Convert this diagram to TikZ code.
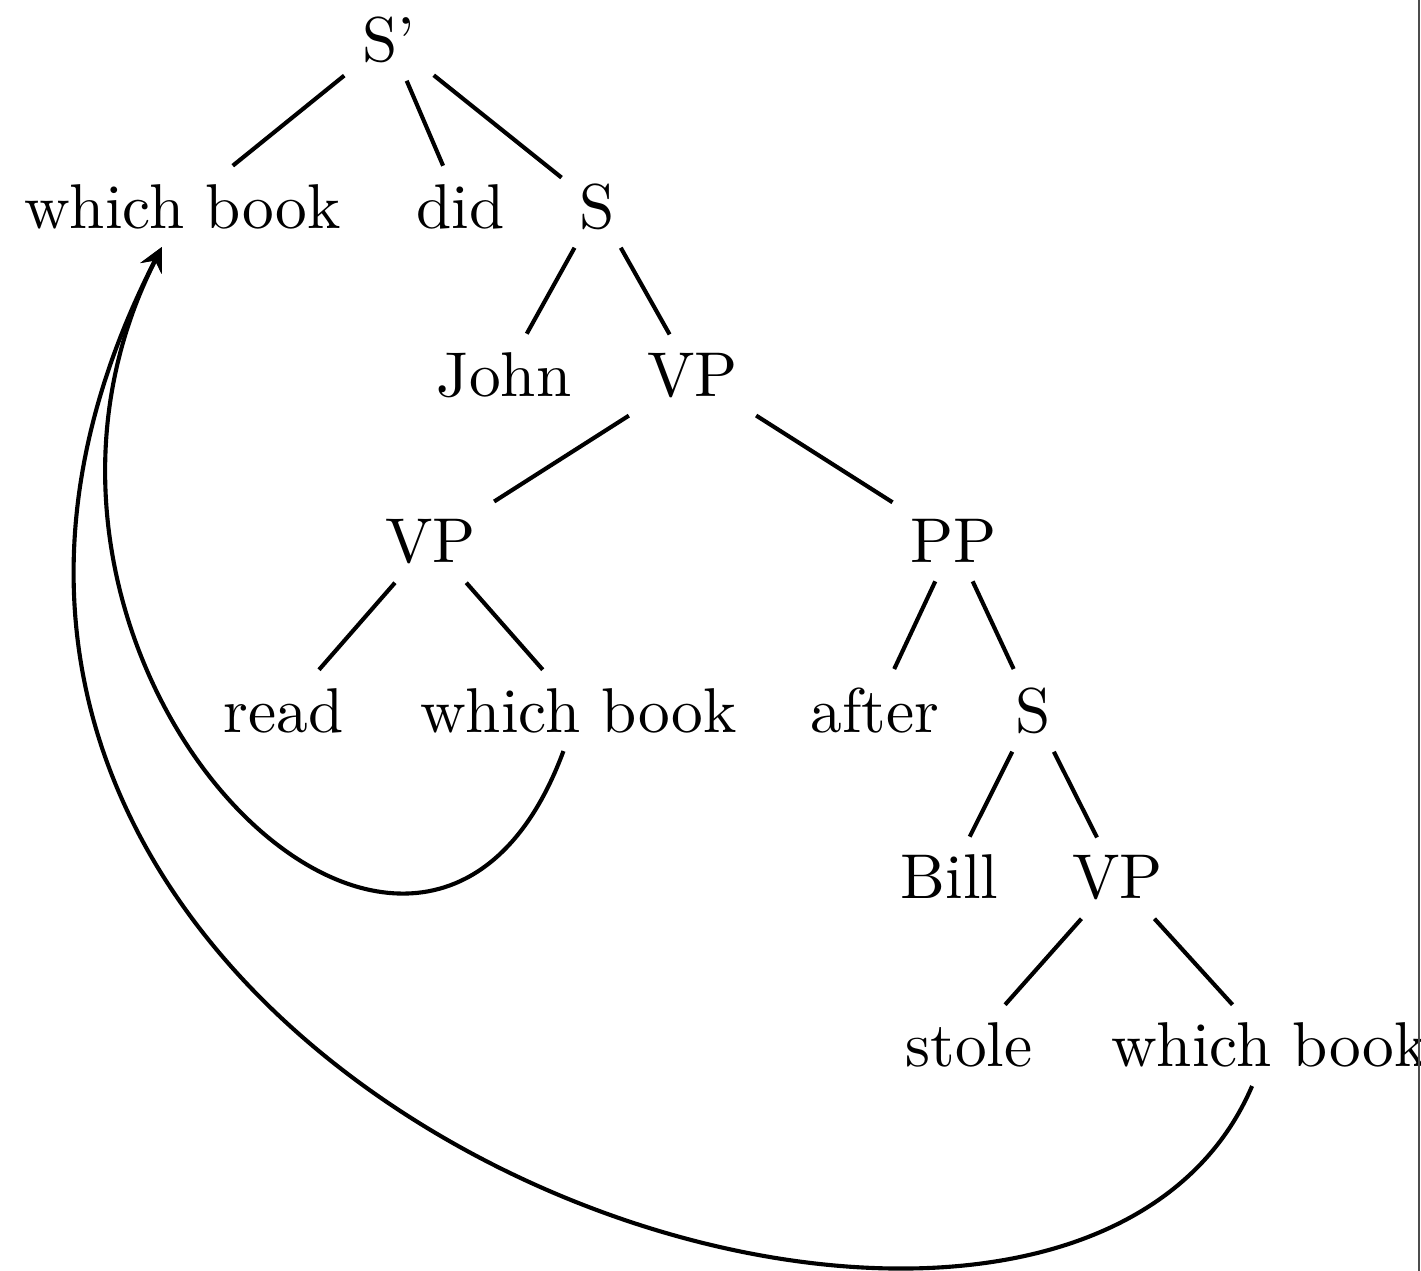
\documentclass[tikz,border=0pt]{standalone}
\usepackage{tikz}
\usetikzlibrary{positioning}

\begin{document}
\begin{tikzpicture}[x=1pt,y=1pt,
    word/.style={anchor=base, inner sep=2.7pt},
    branch/.style={line width=0.65pt},
    move/.style={line width=0.65pt,-stealth}]
        \useasboundingbox (0,0) rectangle (224.49,-200.79);

        % level 1 and 2
        \node[word] (Sp) at (61.45,-9.64) {S'};
        \node[word] (wb0) at (28.83,-36.02) {which book};
        \node[word] (did) at (72.75,-36.02) {did};
        \node[word] (S1) at (94.39,-36.02) {S};

        % level 3 and 4
        \node[word] (John) at (79.62,-62.56) {John};
        \node[word] (VP1) at (109.40,-62.56) {VP};
        \node[word] (VP2) at (68.01,-88.94) {VP};
        \node[word] (PP) at (150.71,-88.94) {PP};

        % level 5
        \node[word] (read) at (44.79,-115.64) {read};
        \node[word] (wb1) at (91.39,-115.64) {which book};
        \node[word] (after) at (138.23,-115.64) {after};
        \node[word] (S2) at (163.19,-115.64) {S};

        % level 6 and 7
        \node[word] (Bill) at (150.00,-142.02) {Bill};
        \node[word] (VP3) at (176.54,-142.02) {VP};
        \node[word] (stole) at (153.08,-168.56) {stole};
        \node[word] (wb2) at (200.55,-168.56) {which book};

        \draw[branch] (Sp) -- (wb0) (Sp) -- (did) (Sp) -- (S1);
        \draw[branch] (S1) -- (John) (S1) -- (VP1);
        \draw[branch] (VP1) -- (VP2) (VP1) -- (PP);
        \draw[branch] (VP2) -- (read) (VP2) -- (wb1);
        \draw[branch] (PP) -- (after) (PP) -- (S2);
        \draw[branch] (S2) -- (Bill) (S2) -- (VP3);
        \draw[branch] (VP3) -- (stole) (VP3) -- (wb2);

        % movement
        \draw[move] (wb1) .. controls (66.5,-179.5) and (-7.5,-104.58) .. (wb0);
        \draw[move] (wb2) .. controls (166.5,-244.71) and (-41.5,-170.5) .. (wb0);

        \draw[gray!60!black, line width=0.3pt] (224.17,0) -- (224.17,-200.79);
      \end{tikzpicture}
\end{document}
